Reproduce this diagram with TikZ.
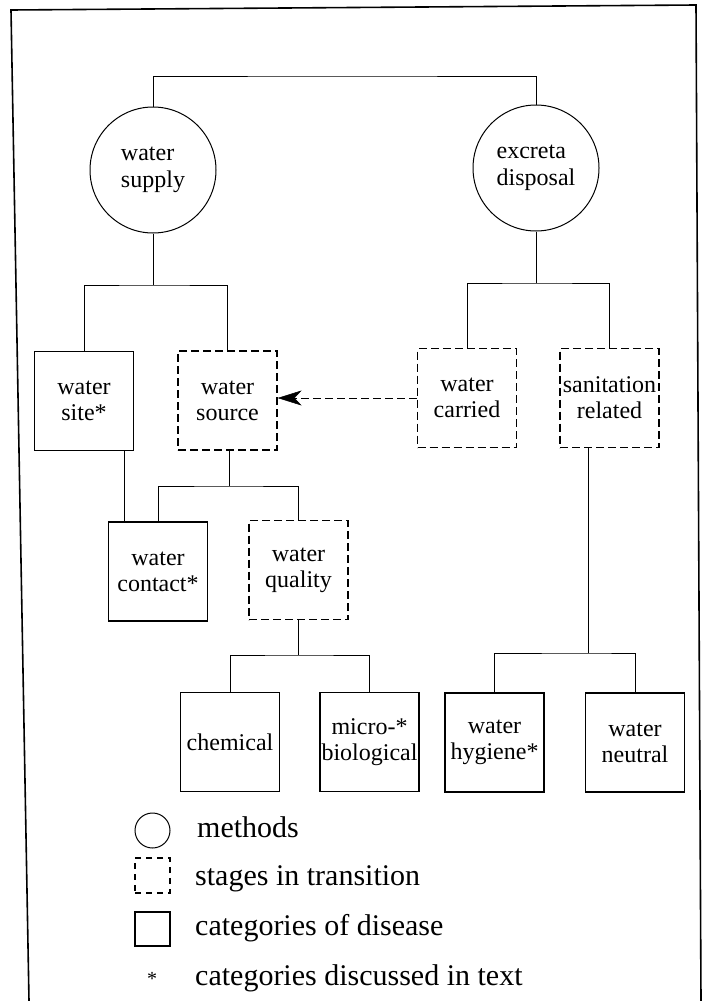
\documentclass[tikz,border=0pt]{standalone}
\usepackage{fontspec}
\setmainfont{Liberation Serif}
\usetikzlibrary{shapes.geometric,arrows.meta}
\begin{document}
\begin{tikzpicture}[x=1pt,y=-1pt,
  boxlabel/.style={font=\fontsize{24}{26}\selectfont, align=center},
  catbox/.style={draw, line width=1.2pt, minimum width=99pt, minimum height=99pt, inner sep=0pt, boxlabel},
  stagebox/.style={catbox, dash pattern=on 8pt off 4pt},
  method/.style={draw, circle, line width=1pt, minimum size=126pt, inner sep=0pt, font=\fontsize{24}{27}\selectfont, align=left},
  conn/.style={line width=0.9pt},
  legendtext/.style={anchor=base west, font=\fontsize{30}{30}\selectfont, inner sep=0pt},
  frameline/.style={line width=1.6pt},
]
\useasboundingbox (0,0) rectangle (704,1001);
% frame
\draw[frameline] (29,1001) -- (11,10) -- (696,5) -- (701,1001);

% methods
\node[method] (wsupply) at (153,170) {water\\supply};
\node[method] (edisp) at (536,168) {excreta\\disposal};

% second level
\node[catbox] (wsite) at (84,401) {water\\site*};
\node[stagebox] (wsource) at (227.5,400.5) {water\\source};
\node[stagebox] (wcarried) at (467,398) {water\\carried};
\node[stagebox] (sanit) at (609.5,398) {sanitation\\related};

% third level
\node[catbox] (wcontact) at (158,571.5) {water\\contact*};
\node[stagebox] (wquality) at (298.5,570) {water\\quality};

% bottom level
\node[catbox] (chem) at (230,742) {chemical};
\node[catbox] (micro) at (369.5,742) {micro-*\\biological};
\node[catbox] (hygiene) at (494.5,742.5) {water\\hygiene*};
\node[catbox] (neutral) at (635,742.5) {water\\neutral};

% connectors
\coordinate (jtop) at (340,76);
\draw[conn] (wsupply.north) |- (jtop) -| (edisp.north);

\coordinate (j1) at (153,285);
\draw[conn] (wsupply.south) -- (j1);
\draw[conn] (wsite.north) |- (j1) -| (wsource.north);

\coordinate (j2) at (536,283);
\draw[conn] (edisp.south) -- (j2);
\draw[conn] (wcarried.north) |- (j2) -| (sanit.north);

\draw[conn, dash pattern=on 8pt off 4pt, -{Stealth[length=24pt,width=15pt,inset=7pt,line width=0.5pt]}]
  (wcarried.west) -- (wsource.east |- wcarried.west);

\coordinate (x1) at (124,0);
\draw[conn] (wsite.south -| x1) -- (wcontact.north -| x1);

\coordinate (j3) at (229,486);
\draw[conn] (wsource.south -| j3) -- (j3);
\draw[conn] (wcontact.north) |- (j3) -| (wquality.north);

\coordinate (j4) at (298.5,655);
\draw[conn] (wquality.south) -- (j4);
\draw[conn] (chem.north) |- (j4) -| (micro.north);

\coordinate (j5) at (588,653);
\draw[conn] (sanit.south -| j5) -- (j5);
\draw[conn] (hygiene.north) |- (j5) -| (neutral.north);

% legend
\node[draw, circle, minimum size=35pt, inner sep=0pt, line width=1pt] (lgmethod) at (152.5,830.5) {};
\node[draw, dash pattern=on 6pt off 5pt, minimum width=35pt, minimum height=35pt, line width=1.3pt, inner sep=0pt] (lgstage) at (152.5,875.5) {};
\node[draw, line width=1.5pt, minimum width=35pt, minimum height=34pt, inner sep=0pt] (lgcat) at (152.5,929) {};
\node[font=\fontsize{20}{20}\selectfont, inner sep=0pt] (lgstar) at (152,979) {*};
\node[legendtext] (tmethods) at (197,837) {methods};
\node[legendtext] (tstages) at (195,885) {stages in transition};
\node[legendtext] (tcats) at (195,935) {categories of disease};
\node[legendtext] (tdisc) at (195,985) {categories discussed in text};
\end{tikzpicture}
\end{document}
